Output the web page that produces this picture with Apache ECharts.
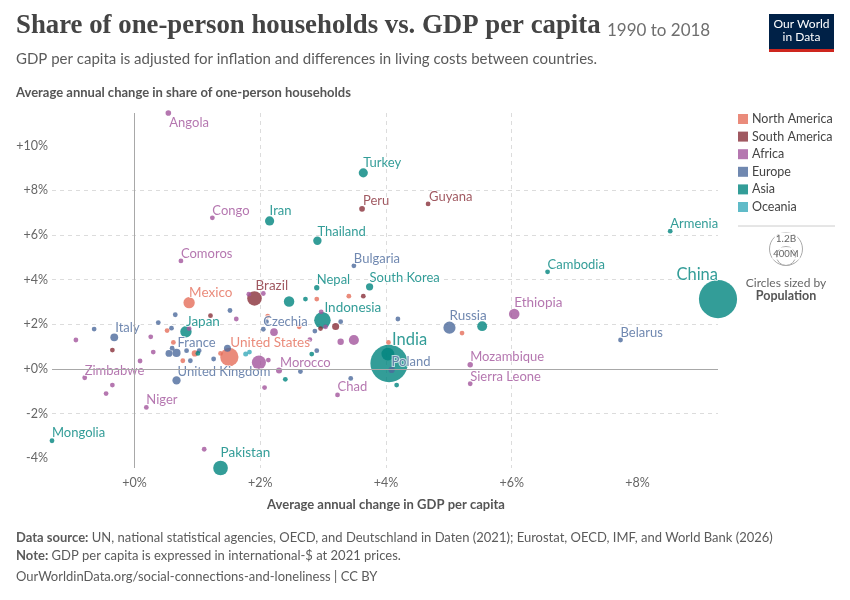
<!DOCTYPE html>
<html>
<head>
<meta charset="utf-8">
<script src="https://cdn.jsdelivr.net/npm/echarts@6.0.0/dist/echarts.min.js"></script>
<style>
  html, body { margin: 0; padding: 0; background: #fff; }
  #chart { width: 850px; height: 600px; }
</style>
</head>
<body>
<div id="chart"></div>
<script>
// ---- Data: [country, avg annual change in GDP per capita (%), avg annual change in share of one-person households (%), population (millions)]
const northAmerica = [
  ['Mexico', 0.87, 2.97, 126],
  ['United States', 1.51, 0.54, 327],
  ['', 0.96, 0.70, 37],
  ['', 0.52, 1.72, 3],
  ['', 0.62, 1.19, 2],
  ['', 0.77, 0.37, 4],
  ['', 1.37, 0.70, 5],
  ['', 2.12, 2.37, 1],
  ['', 2.90, 3.13, 2],
  ['', 3.41, 3.26, 3],
  ['', 4.04, 1.19, 4],
  ['', 5.21, 1.61, 4],
  ['', 2.62, 1.89, 1]
];
const southAmerica = [
  ['Brazil', 1.91, 3.16, 209],
  ['Peru', 3.62, 7.17, 32],
  ['Guyana', 4.67, 7.39, 0.8],
  ['', 3.20, 1.90, 49],
  ['', -0.35, 0.85, 3],
  ['', 1.21, 2.39, 3],
  ['', 2.96, 1.81, 3],
  ['', 3.64, 3.26, 3]
];
const africa = [
  ['Angola', 0.54, 11.46, 31],
  ['Congo', 1.24, 6.77, 5],
  ['Comoros', 0.74, 4.84, 0.8],
  ['Ethiopia', 6.04, 2.46, 109],
  ['Mozambique', 5.34, 0.19, 29],
  ['Sierra Leone', 5.34, -0.66, 7.7],
  ['Chad', 3.23, -1.16, 15],
  ['Morocco', 2.30, -0.07, 36],
  ['', 1.98, 0.29, 196],
  ['Zimbabwe', -0.79, -0.39, 14],
  ['Niger', 0.19, -1.72, 22],
  ['', -0.93, 1.30, 3],
  ['', 0.09, 0.36, 12],
  ['', -0.35, -0.72, 10],
  ['', -0.45, -1.10, 10],
  ['', 1.11, -3.59, 3],
  ['', 0.26, 1.44, 5],
  ['', 0.30, 0.76, 2],
  ['', 0.87, 1.81, 2],
  ['', 1.62, 2.24, 2],
  ['', 1.82, 3.35, 3],
  ['', 2.05, 3.38, 3],
  ['', 2.22, 1.65, 57],
  ['', 2.13, 0.40, 5],
  ['', 2.07, -0.83, 5],
  ['', 3.28, 1.22, 40],
  ['', 3.49, 1.30, 100],
  ['', 3.04, 1.89, 2],
  ['', 2.97, 2.56, 2],
  ['', 2.79, 1.32, 2]
];
const europe = [
  ['Bulgaria', 3.49, 4.62, 7],
  ['Russia', 5.01, 1.85, 145],
  ['Belarus', 7.73, 1.30, 9.5],
  ['Poland', 4.09, -0.04, 38],
  ['Italy', -0.32, 1.42, 60],
  ['France', 0.67, 0.72, 65],
  ['United Kingdom', 0.67, -0.51, 67],
  ['Czechia', 2.05, 1.78, 10.6],
  ['', -0.64, 1.79, 3],
  ['', 0.65, 2.43, 3],
  ['', 0.38, 2.08, 3],
  ['', 0.59, 1.83, 4],
  ['', 0.55, 0.70, 47],
  ['', 0.60, 0.93, 5],
  ['', 0.83, 0.82, 5],
  ['', 1.03, 0.82, 5],
  ['', 0.89, 0.37, 5],
  ['', 1.26, 0.45, 5],
  ['', 1.48, 0.93, 48],
  ['', 1.52, 2.62, 3],
  ['', 2.10, 2.12, 3],
  ['', 2.87, 1.70, 3],
  ['', 3.28, 2.12, 4],
  ['', 4.19, 2.24, 3],
  ['', 2.90, 0.82, 3],
  ['', 2.64, -0.11, 3],
  ['', 3.44, -0.42, 3]
];
const asia = [
  ['Turkey', 3.64, 8.78, 82],
  ['Iran', 2.15, 6.63, 82],
  ['Thailand', 2.91, 5.74, 69],
  ['Armenia', 8.52, 6.17, 3],
  ['Cambodia', 6.57, 4.35, 16],
  ['China', 9.28, 3.13, 1428],
  ['Nepal', 2.90, 3.64, 28],
  ['South Korea', 3.74, 3.68, 51],
  ['Indonesia', 2.99, 2.18, 268],
  ['India', 4.05, 0.25, 1369],
  ['Japan', 0.82, 1.67, 127],
  ['Pakistan', 1.37, -4.43, 212],
  ['Mongolia', -1.31, -3.21, 3.2],
  ['', 5.53, 1.92, 96],
  ['', 4.03, 0.67, 161],
  ['', 4.17, -0.72, 4],
  ['', 2.46, 3.02, 107],
  ['', 2.72, 3.13, 3],
  ['', 2.82, 0.67, 4],
  ['', 2.40, -0.46, 4],
  ['', 1.01, 0.70, 3]
];
const oceania = [
  ['', 1.77, 0.67, 25],
  ['', 1.83, 0.76, 5]
];

const continents = ['North America', 'South America', 'Africa', 'Europe', 'Asia', 'Oceania'];
const continentData = [northAmerica, southAmerica, africa, europe, asia, oceania];
const xTicks = [0, 2, 4, 6, 8];
const yTicks = [-4, -2, 0, 2, 4, 6, 8, 10];
const sizeLegendValues = ['1.2B', '400M'];

// ---- Styles
const colors = ['#E56E5A', '#883039', '#A2559C', '#4C6A9C', '#00847E', '#38AABA'];
const FONT = 'Lato, "Noto Sans", sans-serif';
// label placement: [dx, dy] from circle centre to text's left/middle
const labelOffsets = {
  'Angola': [1, 9.5], 'Turkey': [0, -10], 'Peru': [1, -8], 'Guyana': [1, -7],
  'Congo': [0, -7], 'Iran': [0, -10], 'Thailand': [0, -9], 'Comoros': [0, -7],
  'Bulgaria': [0, -7], 'Armenia': [0, -7.5], 'Cambodia': [0, -7], 'China': [0, -24],
  'Ethiopia': [0, -11], 'Russia': [0, -12], 'Belarus': [0, -7], 'Mozambique': [0, -8],
  'Sierra Leone': [0, -7], 'India': [3, -24], 'Poland': [0, -8.5], 'Chad': [0, -8],
  'Indonesia': [2, -13], 'South Korea': [0, -9], 'Nepal': [0, -8], 'Brazil': [1, -13],
  'Czechia': [0, -7.5], 'Japan': [0, -10.5], 'Mexico': [0, -10], 'France': [1, -10],
  'United States': [1, -14], 'United Kingdom': [1, -9], 'Morocco': [1, -8],
  'Italy': [1, -9], 'Zimbabwe': [0, -7], 'Niger': [0, -8], 'Mongolia': [0, -8],
  'Pakistan': [0, -15]
};
function radius(pop) { return Math.max(2.4, 17.5 * Math.sqrt(pop / 1200)); }
function labelSize(pop) { return pop > 1000 ? 16.5 : (pop >= 100 ? 13.5 : 13); }

const points = [];
continentData.forEach((arr, ci) => {
  arr.forEach(row => {
    const [name, x, y, pop] = row;
    const r = radius(pop);
    const item = {
      name: name,
      value: [x, y],
      symbolSize: 2 * r,
      pop: pop,
      itemStyle: { color: colors[ci], opacity: 0.8 }
    };
    if (name) {
      const off = labelOffsets[name] || [0, -8];
      item.label = {
        show: true,
        formatter: name,
        position: [r + off[0], r + off[1]],
        align: name === 'China' ? 'right' : 'left',
        verticalAlign: 'middle',
        color: colors[ci],
        fontFamily: FONT,
        fontSize: labelSize(pop),
        textBorderColor: 'rgba(255,255,255,0.85)',
        textBorderWidth: 2
      };
    }
    points.push(item);
  });
});
points.sort((a, b) => b.pop - a.pop);

const allX = points.map(p => p.value[0]);
const allY = points.map(p => p.value[1]);
const xMin = Math.min(...allX), xMax = Math.max(...allX);
const yMin = Math.min(...allY), yMax = Math.max(...allY);

function pct(v) { return (v >= 0 ? '+' : '') + v + '%'; }

const chart = echarts.init(document.getElementById('chart'), null, { renderer: 'canvas' });

const legendGraphics = [];
continents.forEach((c, i) => {
  const cy = 119 + i * 17.6;
  legendGraphics.push({
    type: 'rect', shape: { x: 738, y: cy - 5, width: 10, height: 10 },
    style: { fill: colors[i], opacity: 0.8 }
  });
  legendGraphics.push({
    type: 'text', x: 752, y: cy,
    style: { text: c, font: '12.5px ' + FONT, fill: '#444', verticalAlign: 'middle' }
  });
});

const option = {
  animation: false,
  backgroundColor: '#fff',
  grid: { left: 52, right: 132, top: 113, bottom: 132, outerBoundsMode: 'none' },
  xAxis: {
    type: 'value', min: xMin, max: xMax,
    axisLine: { show: false },
    axisTick: { show: false, customValues: xTicks },
    axisLabel: { customValues: xTicks, formatter: pct, color: '#666', fontSize: 12.5, fontFamily: FONT, margin: 8 },
    splitLine: { show: true, showMinLine: false, showMaxLine: false, lineStyle: { color: '#dcdcdc', type: [4, 4], width: 1 } }
  },
  yAxis: {
    type: 'value', min: yMin, max: yMax,
    axisLine: { show: false },
    axisTick: { show: false, customValues: yTicks },
    axisLabel: { customValues: yTicks, formatter: pct, color: '#666', fontSize: 12.5, fontFamily: FONT, margin: 4 },
    splitLine: { show: true, showMinLine: false, showMaxLine: false, lineStyle: { color: '#dcdcdc', type: [4, 4], width: 1 } }
  },
  series: [
    {
      type: 'scatter', data: [], z: 1, silent: true,
      markLine: {
        silent: true, symbol: 'none', animation: false,
        lineStyle: { color: '#a8a8a8', type: 'solid', width: 1 },
        label: { show: false },
        emphasis: { disabled: true },
        data: [{ xAxis: 0 }, { yAxis: 0 }]
      }
    },
    {
      type: 'scatter', z: 3,
      symbol: 'circle',
      data: points,
      emphasis: { disabled: true },
      labelLayout: { hideOverlap: false }
    }
  ],
  graphic: [
    {
      type: 'text', left: 16, top: 13,
      style: {
        text: '{t|Share of one-person households vs. GDP per capita} {y|1990 to 2018}',
        rich: {
          t: { fontFamily: '"Liberation Serif", "DejaVu Serif", serif', fontWeight: 'bold', fontSize: 26.8, fill: '#444', verticalAlign: 'bottom' },
          y: { fontFamily: FONT, fontSize: 17, fill: '#6e6e6e', verticalAlign: 'bottom', padding: [0, 0, 1, 3] }
        }
      }
    },
    {
      type: 'text', left: 16, top: 52,
      style: { text: 'GDP per capita is adjusted for inflation and differences in living costs between countries.', font: '15px ' + FONT, fill: '#5b5b5b' }
    },
    {
      type: 'text', left: 16, top: 86,
      style: { text: 'Average annual change in share of one-person households', font: 'bold 13px ' + FONT, fill: '#555' }
    },
    {
      type: 'text', x: 386, y: 505,
      style: { text: 'Average annual change in GDP per capita', font: 'bold 13px ' + FONT, fill: '#555', align: 'center', verticalAlign: 'middle' }
    },
    // logo
    { type: 'rect', shape: { x: 769, y: 14, width: 65, height: 38 }, style: { fill: '#002147' } },
    { type: 'rect', shape: { x: 769, y: 49, width: 65, height: 3 }, style: { fill: '#ce261e' } },
    {
      type: 'text', x: 801.5, y: 31,
      style: { text: 'Our World\nin Data', font: '12px ' + FONT, fill: '#fff', align: 'center', verticalAlign: 'middle', lineHeight: 13 }
    },
    ...legendGraphics,
    { type: 'line', shape: { x1: 738, y1: 226, x2: 835, y2: 226 }, style: { stroke: '#ccc', lineWidth: 1 } },
    { type: 'circle', shape: { cx: 786, cy: 249, r: 16.5 }, style: { fill: 'none', stroke: '#aaa', lineWidth: 1 } },
    { type: 'circle', shape: { cx: 786, cy: 256, r: 9.5 }, style: { fill: 'none', stroke: '#aaa', lineWidth: 1 } },
    { type: 'text', x: 786, y: 238.5, style: { text: sizeLegendValues[0], font: '10px ' + FONT, fill: '#666', align: 'center', verticalAlign: 'middle', textBorderColor: '#fff', textBorderWidth: 2 } },
    { type: 'text', x: 786, y: 253.5, style: { text: sizeLegendValues[1], font: '9.5px ' + FONT, fill: '#666', align: 'center', verticalAlign: 'middle', textBorderColor: '#fff', textBorderWidth: 2 } },
    { type: 'text', x: 786, y: 283, style: { text: 'Circles sized by', font: '12px ' + FONT, fill: '#666', align: 'center', verticalAlign: 'middle' } },
    { type: 'text', x: 786, y: 296, style: { text: 'Population', font: 'bold 12.5px ' + FONT, fill: '#555', align: 'center', verticalAlign: 'middle' } },
    // footer
    {
      type: 'text', left: 16, top: 531,
      style: {
        text: '{b|Data source:} UN, national statistical agencies, OECD, and Deutschland in Daten (2021); Eurostat, OECD, IMF, and World Bank (2026)',
        font: '13px ' + FONT, fill: '#5b5b5b',
        rich: { b: { fontFamily: FONT, fontWeight: 'bold', fontSize: 13, fill: '#5b5b5b' } }
      }
    },
    {
      type: 'text', left: 16, top: 549,
      style: {
        text: '{b|Note:} GDP per capita is expressed in international-$ at 2021 prices.',
        font: '13px ' + FONT, fill: '#5b5b5b',
        rich: { b: { fontFamily: FONT, fontWeight: 'bold', fontSize: 13, fill: '#5b5b5b' } }
      }
    },
    {
      type: 'text', left: 16, top: 570,
      style: { text: 'OurWorldinData.org/social-connections-and-loneliness | CC BY', font: '13px ' + FONT, fill: '#5b5b5b' }
    }
  ]
};
chart.setOption(option);
</script>
</body>
</html>
